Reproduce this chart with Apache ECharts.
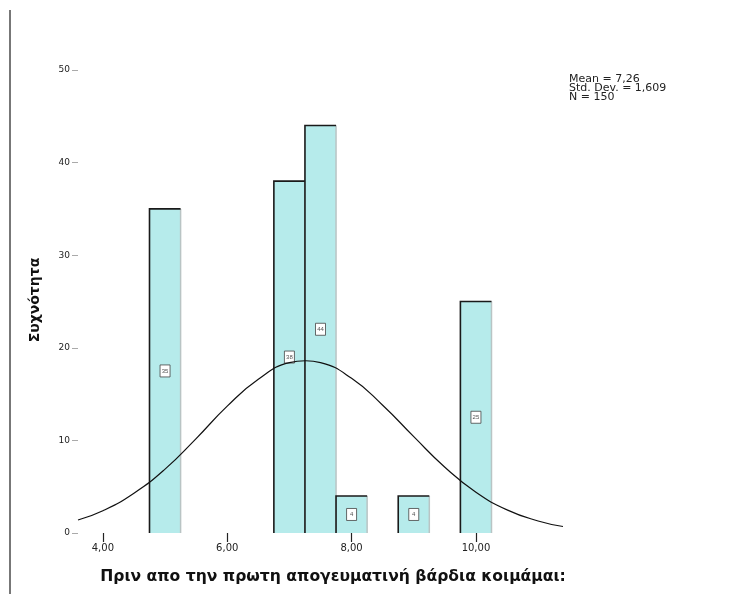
<!DOCTYPE html>
<html>
<head>
<meta charset="utf-8">
<script src="https://cdn.jsdelivr.net/npm/echarts@6/dist/echarts.min.js"></script>
<style>
  html, body { margin: 0; padding: 0; background: #fff; }
  #chart { width: 736px; height: 594px; }
</style>
</head>
<body>
<div id="chart"></div>
<script>
// Histogram bins: bin centre and frequency (bin width 0.5)
const binCenters = [5.0, 7.0, 7.5, 8.0, 9.0, 10.0];
const binCounts  = [35, 38, 44, 4, 4, 25];
const binWidth = 0.5;

// Fitted normal curve heights (frequency scale)
const curveX = [3.6, 4.0, 4.5, 5.0, 5.5, 6.0, 6.5, 7.0, 7.26, 7.5, 8.0, 8.5, 9.0, 9.5, 10.0, 10.5, 11.0, 11.4];
const curveY = [1.4, 2.4, 4.3, 6.9, 10.2, 13.7, 16.6, 18.4, 18.6, 18.4, 16.7, 13.8, 10.4, 7.1, 4.4, 2.5, 1.3, 0.7];

// Axis ticks
const xTicks = [4, 6, 8, 10];
const yTicks = [0, 10, 20, 30, 40, 50];

// Summary statistics box
const statLines = ['Mean = 7,26', 'Std. Dev. = 1,609', 'N = 150'];

const xTitle = 'Πριν απο την πρωτη απογευματινή βάρδια κοιμάμαι:';
const yTitle = 'Συχνότητα';

const chart = echarts.init(document.getElementById('chart'), null, { renderer: 'canvas' });

const barData = binCenters.map((c, i) => [c, binCounts[i]]);
const curveData = curveX.map((x, i) => [x, curveY[i]]);

function renderBar(params, api) {
  const c = api.value(0), v = api.value(1);
  const p0 = api.coord([c - binWidth / 2, 0]);
  const p1 = api.coord([c + binWidth / 2, v]);
  const x0 = p0[0], x1 = p1[0], yb = p0[1], yt = p1[1];
  const mid = api.coord([c, v / 2]);
  return {
    type: 'group',
    children: [
      { type: 'rect', shape: { x: x0, y: yt, width: x1 - x0, height: yb - yt },
        style: { fill: '#b6ebeb' } },
      { type: 'line', shape: { x1: x1, y1: yt, x2: x1, y2: yb },
        style: { stroke: '#b9c4c4', lineWidth: 1.5 } },
      { type: 'polyline', shape: { points: [[x0, yb], [x0, yt], [x1, yt]] },
        style: { stroke: '#1a1a1a', fill: null, lineWidth: 1.6 } },
      { type: 'rect', shape: { x: mid[0] - 5, y: mid[1] - 6, width: 10, height: 12 },
        style: { fill: '#ffffff', stroke: '#444', lineWidth: 0.8 } },
      { type: 'text', x: mid[0], y: mid[1],
        style: { text: String(v), fontSize: 6, fill: '#555', align: 'center', verticalAlign: 'middle',
                 fontFamily: 'Liberation Sans' } }
    ]
  };
}

const option = {
  animation: false,
  backgroundColor: '#ffffff',
  grid: { left: 78, right: 736 - 563, top: 70, bottom: 594 - 533, containLabel: false },
  xAxis: {
    type: 'value', min: 3.6, max: 11.4,
    axisLine: { show: false },
    splitLine: { show: false },
    axisTick: { show: true, customValues: xTicks, length: 9, lineStyle: { color: '#222', width: 1.2 } },
    axisLabel: { customValues: xTicks, margin: 10, fontSize: 10, color: '#222',
                 fontFamily: 'DejaVu Sans',
                 formatter: v => v.toFixed(2).replace('.', ',') }
  },
  yAxis: {
    type: 'value', min: 0, max: 50, interval: 10,
    axisLine: { show: false },
    splitLine: { show: false },
    axisTick: { show: true, length: 6, lineStyle: { color: '#aaa' } },
    axisLabel: { fontSize: 9, color: '#222', margin: 8, fontFamily: 'DejaVu Sans' }
  },
  graphic: [
    { type: 'line', shape: { x1: 10, y1: 10, x2: 10, y2: 594 },
      style: { stroke: '#777', lineWidth: 2 } },
    { type: 'text', left: 569, top: 74,
      style: { text: statLines.join('\n'), fontSize: 11, lineHeight: 9, fill: '#222',
               fontFamily: 'DejaVu Sans' } },
    { type: 'text', x: 333, y: 577,
      style: { text: xTitle, fontSize: 15.6, fontWeight: 'bold', fill: '#111', align: 'center',
               verticalAlign: 'middle', fontFamily: 'DejaVu Sans' } },
    { type: 'text', x: 35, y: 300, rotation: Math.PI / 2,
      style: { text: yTitle, fontSize: 14, fontWeight: 'bold', fill: '#111', align: 'center',
               verticalAlign: 'middle', fontFamily: 'DejaVu Sans' } }
  ],
  series: [
    { type: 'custom', renderItem: renderBar, data: barData, z: 2 },
    { type: 'line', data: curveData, smooth: true, showSymbol: false, z: 3,
      lineStyle: { color: '#111', width: 1.2 } }
  ]
};

chart.setOption(option);
</script>
</body>
</html>
